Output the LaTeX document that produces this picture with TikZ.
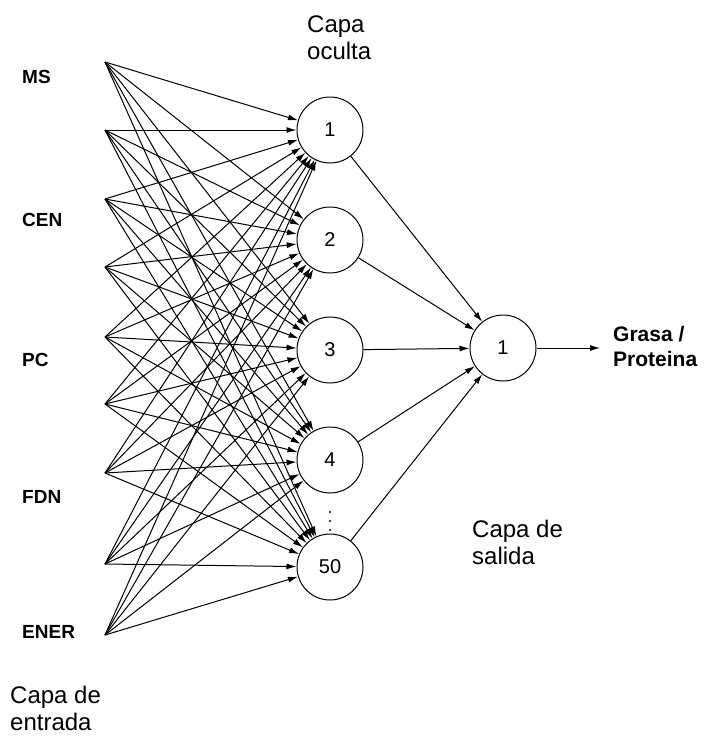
\documentclass[tikz,border=0pt]{standalone}
\usepackage{fontspec}
\setmainfont{Liberation Sans}
\usetikzlibrary{arrows.meta,positioning}

\begin{document}
\begin{tikzpicture}[x=1pt,y=-1pt,
    neuron/.style={circle,draw,line width=1pt,minimum size=66pt,inner sep=0pt,font=\fontsize{20}{20}\selectfont},
    link/.style={-{Latex[length=10pt,width=6pt]},line width=1pt},
    inlabel/.style={anchor=west,inner sep=0pt,font=\bfseries\fontsize{19}{19}\selectfont},
    layerlabel/.style={anchor=west,inner sep=0pt,align=left,font=\fontsize{24}{27}\selectfont}]
  \useasboundingbox (0,0) rectangle (706,742);

  % Input points
  \foreach \y [count=\i] in {62,130,199,267,337,404,473,564,635}
    \coordinate (in\i) at (105,\y);

  % Input labels
  \foreach \name/\y in {MS/77,CEN/220,PC/360,FDN/497,ENER/632}
    \node[inlabel] (lab\name) at (22,\y) {\name};

  % Hidden layer
  \foreach \txt/\y [count=\j] in {1/130,2/240,3/350,4/460,50/567}
    \node[neuron] (h\j) at (330,\y) {\txt};
  \foreach \y in {512,521,530}
    \fill (330,\y) circle (1.2pt);

  % Output layer
  \node[neuron] (out) at (503,348) {1};
  \coordinate (res) at (600,348);

  % Connections
  \foreach \i in {1,...,9}
    \foreach \j in {1,...,5}
      \draw[link] (in\i) -- (h\j);
  \foreach \j in {1,...,5}
    \draw[link] (h\j) -- (out);
  \draw[link] (out) -- (res);

  % Layer labels
  \node[inlabel,align=left,font=\bfseries\fontsize{21}{25}\selectfont] (target) at (613,346) {Grasa /\\Proteina};
  \node[layerlabel] (capaoculta) at (307,38) {Capa\\oculta};
  \node[layerlabel] (capasalida) at (472,542) {Capa de\\salida};
  \node[layerlabel] (capaentrada) at (10,708) {Capa de\\entrada};
\end{tikzpicture}
\end{document}
